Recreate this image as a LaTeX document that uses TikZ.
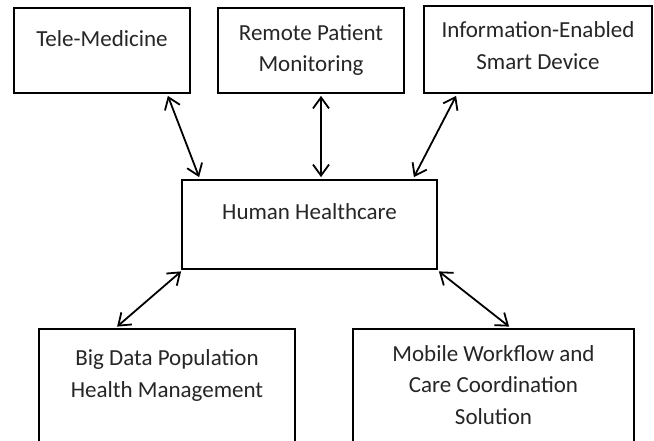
\documentclass[tikz,border=0pt]{standalone}
\usepackage{fontspec}
\setmainfont{Carlito}
\usetikzlibrary{arrows.meta,calc}
\begin{document}
\begin{tikzpicture}[x=1pt,y=-1pt,
  box/.style={draw=black,line width=1.8pt,inner sep=0pt},
  txt/.style={text=black!85,align=center,inner sep=0pt,anchor=base,
    font=\fontsize{23}{31.5}\selectfont},
  link/.style={line width=1.8pt,{Straight Barb[length=11pt,width=16pt]}-{Straight Barb[length=11pt,width=16pt]}}]
\useasboundingbox (0,0) rectangle (654,441);
\clip (0,0) rectangle (654,441);
\fill[white] (0,0) rectangle (654,441);

% boxes
\node[box,minimum width=176pt,minimum height=85pt] (tm)  at (102,50.5) {};
\node[box,minimum width=186pt,minimum height=85pt] (rpm) at (311,50.5) {};
\node[box,minimum width=228pt,minimum height=87pt] (ied) at (538,49.5) {};
\node[box,minimum width=255pt,minimum height=89pt] (hh)  at (309.5,224.5) {};
\node[box,minimum width=256pt,minimum height=141pt] (bd) at (167,399.5) {};
\node[box,minimum width=281pt,minimum height=141pt] (mw) at (493.5,399.5) {};

% labels (anchored on the baseline of their last line)
\node[txt] (tm-t)  at (102,47)  {Tele-Medicine};
\node[txt] (rpm-t) at (311,72)  {Remote Patient\\Monitoring};
\node[txt] (ied-t) at (538,69.5)  {Information-Enabled\\Smart Device};
\node[txt] (hh-t)  at (309.5,220) {Human Healthcare};
\node[txt] (bd-t)  at (167,397) {Big Data Population\\Health Management};
\node[txt] (mw-t)  at (493.5,424) {Mobile Workflow and\\Care Coordination\\Solution};

% connectors
\draw[link] ($(tm.south east)+(-23,2)$)  -- ($(hh.north west)+(18,-2)$);
\draw[link] ($(rpm.south)+(10,2)$)      -- ($(hh.north)+(11.5,-2)$);
\draw[link] ($(ied.south west)+(33,2)$) -- ($(hh.north east)+(-24,-2)$);
\draw[link] ($(hh.south west)+(0,1.5)$) -- ($(bd.north west)+(79,-1.5)$);
\draw[link] ($(hh.south east)+(1,1.5)$) -- ($(mw.north west)+(157,-1.5)$);
\end{tikzpicture}
\end{document}
